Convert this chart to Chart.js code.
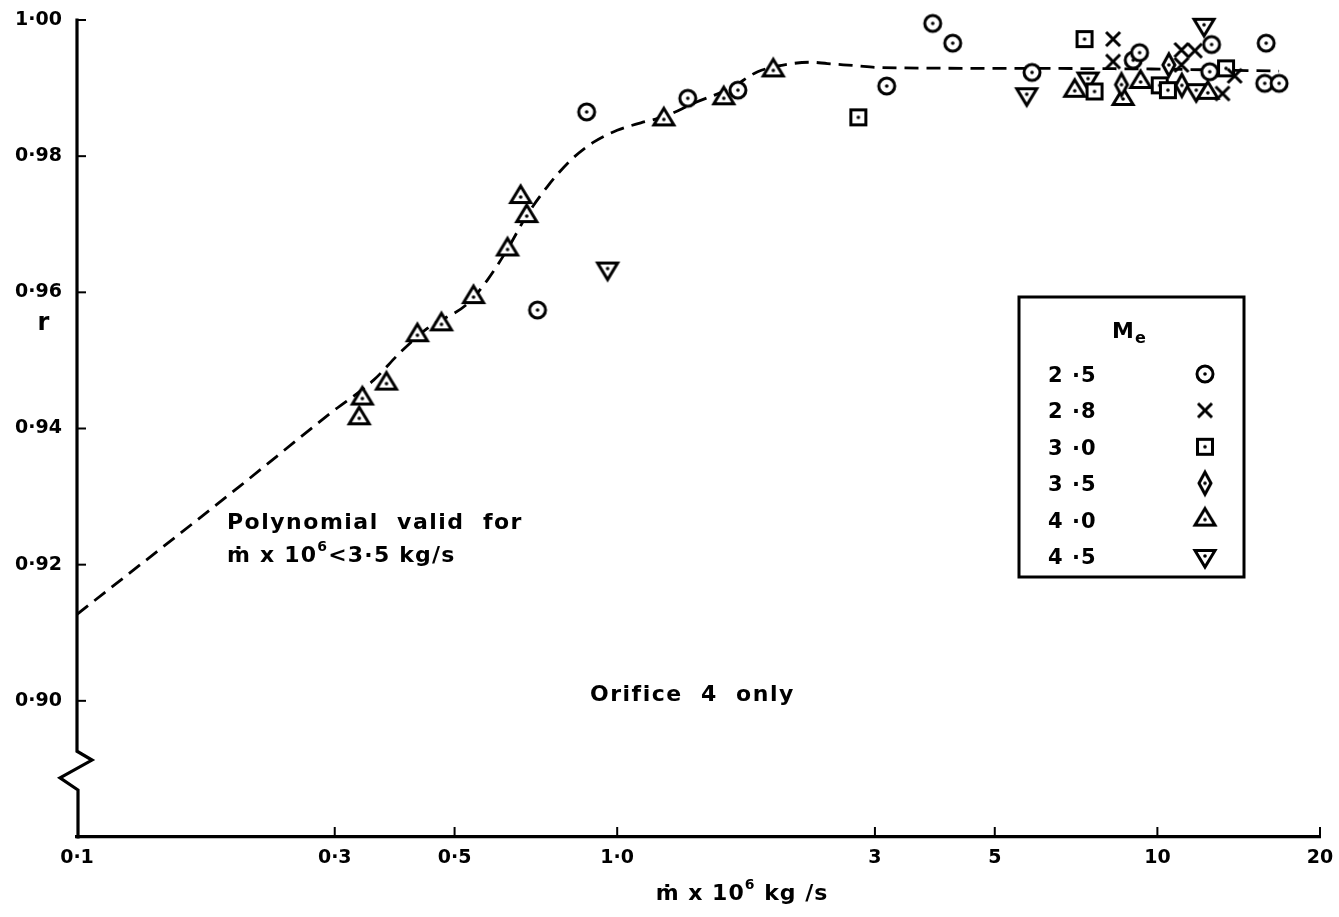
<!DOCTYPE html>
<html>
<head>
<meta charset="utf-8">
<title>r against mass flow</title>
<script src="https://cdn.jsdelivr.net/npm/chart.js@4.4.1/dist/chart.umd.min.js"></script>
<style>
  html, body { margin: 0; padding: 0; background: #fff; }
  #wrap { width: 1339px; height: 917px; }
</style>
</head>
<body>
<div id="wrap"><canvas id="chart" width="1339" height="917"></canvas></div>
<script>
// axis ticks
const xTickValues = [0.1, 0.3, 0.5, 1, 3, 5, 10, 20];
const xTickLabels = ["0·1", "0·3", "0·5", "1·0", "3", "5", "10", "20"];
const yTickValues = [0.90, 0.92, 0.94, 0.96, 0.98, 1.00];
const yTickLabels = ["0·90", "0·92", "0·94", "0·96", "0·98", "1·00"];

// fitted polynomial, dashed
const fitX = [0.1, 0.2, 0.294, 0.354, 0.397, 0.445, 0.528, 0.575, 0.626, 0.679, 0.742, 0.82, 0.906, 1.0, 1.106, 1.221, 1.388, 1.623, 1.82, 2.07, 2.28, 2.45, 2.75, 3.08, 5.14, 9.75, 16.8];
const fitY = [0.9127, 0.9315, 0.9422, 0.9471, 0.9512, 0.9547, 0.9583, 0.9618, 0.9663, 0.9712, 0.9755, 0.9794, 0.9821, 0.9838, 0.9849, 0.9858, 0.9878, 0.9900, 0.9924, 0.9935, 0.9938, 0.9936, 0.9933, 0.9930, 0.9929, 0.9928, 0.9925];

// measured points, one pair per exit Mach number
const m25X = [0.712, 0.878, 1.351, 1.673, 3.155, 3.838, 4.18, 5.86, 9.02, 9.27, 12.5, 12.6, 15.8, 15.9, 16.8];
const m25Y = [0.9574, 0.9865, 0.9885, 0.9897, 0.9903, 0.9995, 0.9966, 0.9923, 0.9941, 0.9952, 0.9924, 0.9964, 0.9907, 0.9966, 0.9907];
const m28X = [8.28, 8.28, 11.08, 11.73, 11.08, 13.9, 13.2];
const m28Y = [0.9972, 0.9939, 0.9956, 0.9955, 0.9934, 0.9918, 0.9892];
const m30X = [2.795, 7.33, 7.65, 10.1, 10.46, 13.4];
const m30Y = [0.9857, 0.9972, 0.9895, 0.9904, 0.9897, 0.9929];
const m35X = [8.58, 10.5, 11.1];
const m35Y = [0.9905, 0.9934, 0.9904];
const m40X = [0.333, 0.3375, 0.374, 0.4267, 0.4728, 0.542, 0.6266, 0.680, 0.6627, 1.22, 1.575, 1.945, 7.03, 8.64, 9.31, 12.4];
const m40Y = [0.9415, 0.9444, 0.9466, 0.9537, 0.9553, 0.9593, 0.9663, 0.9712, 0.974, 0.9854, 0.9885, 0.9926, 0.9896, 0.9884, 0.9909, 0.9893];
const m45X = [0.960, 5.73, 7.44, 11.8, 12.2];
const m45Y = [0.9635, 0.9891, 0.9914, 0.9897, 0.9993];

const machLabels = ["2·5", "2·8", "3·0", "3·5", "4·0", "4·5"];
const machKinds = ["circle", "cross", "square", "diamond", "up", "down"];

const FONT = '"DejaVu Sans", "Liberation Sans", sans-serif';

function pairs(xs, ys) {
  return xs.map((x, i) => ({ x: x, y: ys[i] }));
}

// small canvases used as point symbols
function makeMarker(kind) {
  const c = document.createElement("canvas");
  c.width = 30; c.height = 30;
  const g = c.getContext("2d");
  const m = 15;
  g.lineWidth = 3;
  g.strokeStyle = "#000";
  g.fillStyle = "#fff";
  g.lineJoin = "miter";
  g.beginPath();
  if (kind === "circle") {
    g.arc(m, m, 8, 0, Math.PI * 2);
  } else if (kind === "square") {
    g.rect(m - 7.5, m - 7.5, 15, 15);
  } else if (kind === "diamond") {
    g.moveTo(m, m - 11); g.lineTo(m + 6, m); g.lineTo(m, m + 11); g.lineTo(m - 6, m); g.closePath();
  } else if (kind === "up") {
    g.moveTo(m, m - 11); g.lineTo(m + 10, m + 5.5); g.lineTo(m - 10, m + 5.5); g.closePath();
  } else if (kind === "down") {
    g.moveTo(m - 10, m - 5.5); g.lineTo(m + 10, m - 5.5); g.lineTo(m, m + 11); g.closePath();
  } else if (kind === "cross") {
    g.moveTo(m - 7, m - 7); g.lineTo(m + 7, m + 7);
    g.moveTo(m + 7, m - 7); g.lineTo(m - 7, m + 7);
    g.stroke();
    return c;
  }
  g.fill();
  g.stroke();
  g.fillStyle = "#000";
  g.beginPath();
  g.arc(m, m, 1.8, 0, Math.PI * 2);
  g.fill();
  return c;
}

const markers = machKinds.map(makeMarker);
const seriesX = [m25X, m28X, m30X, m35X, m40X, m45X];
const seriesY = [m25Y, m28Y, m30Y, m35Y, m40Y, m45Y];

const pointSets = seriesX.map((xs, i) => ({
  label: "Me " + machLabels[i],
  data: pairs(xs, seriesY[i]),
  pointStyle: markers[i],
  pointRadius: 8,
  showLine: false,
  clip: false
}));

// text pieces drawn left to right, small pieces raised as superscripts
function drawParts(ctx, parts, x, y, align) {
  let total = 0;
  parts.forEach(p => {
    ctx.font = "bold " + p.size + "px " + FONT;
    total += ctx.measureText(p.t).width;
  });
  let cx = align === "center" ? x - total / 2 : x;
  ctx.textAlign = "left";
  parts.forEach(p => {
    ctx.font = "bold " + p.size + "px " + FONT;
    ctx.fillText(p.t, cx, y + (p.dy || 0));
    cx += ctx.measureText(p.t).width;
  });
}

const paperPlugin = {
  id: "paper",
  afterDraw(chart) {
    const ctx = chart.ctx;
    const xs = chart.scales.x;
    const ys = chart.scales.y;
    const area = chart.chartArea;
    const x0 = area.left;
    ctx.save();
    ctx.strokeStyle = "#000";
    ctx.fillStyle = "#000";

    // y axis with a break below 0.90
    ctx.lineWidth = 3.2;
    ctx.lineJoin = "miter";
    ctx.beginPath();
    ctx.moveTo(x0, ys.getPixelForValue(1.0) - 1.5);
    ctx.lineTo(x0, ys.getPixelForValue(0.8926));
    ctx.lineTo(x0 + 15, ys.getPixelForValue(0.8913));
    ctx.lineTo(x0 - 17, ys.getPixelForValue(0.8887));
    ctx.lineTo(x0 + 1, ys.getPixelForValue(0.8869));
    ctx.lineTo(x0 + 1, area.bottom + 1.5);
    ctx.stroke();

    // inward ticks
    ctx.lineWidth = 2;
    yTickValues.forEach(v => {
      const p = ys.getPixelForValue(v);
      ctx.beginPath(); ctx.moveTo(x0, p); ctx.lineTo(x0 + 9, p); ctx.stroke();
    });
    xTickValues.slice(1).forEach(v => {
      const p = xs.getPixelForValue(v);
      ctx.beginPath(); ctx.moveTo(p, area.bottom); ctx.lineTo(p, area.bottom - 10); ctx.stroke();
    });

    ctx.textBaseline = "alphabetic";
    ctx.letterSpacing = "1px";

    // axis titles
    ctx.font = "bold 24px " + FONT;
    ctx.textAlign = "center";
    ctx.fillText("r", 44, ys.getPixelForValue(0.9555) + 7);
    drawParts(ctx, [
      { t: "ṁ x 10", size: 22 },
      { t: "6", size: 14, dy: -11 },
      { t: " kg /s", size: 22 }
    ], 742, 900, "center");

    // notes
    ctx.letterSpacing = "1.5px";
    ctx.font = "bold 22px " + FONT;
    ctx.textAlign = "left";
    ctx.fillText("Polynomial  valid  for", 227, 529);
    ctx.letterSpacing = "1.2px";
    drawParts(ctx, [
      { t: "ṁ x 10", size: 22 },
      { t: "6", size: 14, dy: -11 },
      { t: "<3·5 kg/s", size: 22 }
    ], 227, 562, "left");
    ctx.letterSpacing = "1.5px";
    ctx.font = "bold 22px " + FONT;
    ctx.textAlign = "left";
    ctx.fillText("Orifice  4  only", 590, 701);

    // legend box
    ctx.letterSpacing = "1px";
    const bl = 1019, bt = 297, br = 1244, bb = 577;
    ctx.lineWidth = 3;
    ctx.strokeRect(bl, bt, br - bl, bb - bt);
    drawParts(ctx, [
      { t: "M", size: 22 },
      { t: "e", size: 16, dy: 5 }
    ], 1112, 338, "left");
    const rowTop = 374, rowStep = 36.4;
    machLabels.forEach((lab, i) => {
      const cy = rowTop + i * rowStep;
      ctx.font = "bold 21px " + FONT;
      ctx.textAlign = "left";
      ctx.fillText(lab.replace("·", " ·"), 1048, cy + 8);
      const mk = markers[i];
      ctx.drawImage(mk, 1205 - mk.width / 2, cy - mk.height / 2);
    });
    ctx.restore();
  }
};

new Chart(document.getElementById("chart"), {
  type: "scatter",
  data: {
    datasets: pointSets.concat([{
      label: "polynomial",
      data: pairs(fitX, fitY),
      showLine: true,
      borderColor: "#000",
      borderWidth: 2.8,
      borderDash: [14, 8],
      pointRadius: 0,
      cubicInterpolationMode: "monotone",
      fill: false
    }])
  },
  options: {
    responsive: false,
    animation: false,
    layout: { padding: { top: 20, right: 19, left: 0, bottom: 0 } },
    plugins: { legend: { display: false }, tooltip: { enabled: false } },
    scales: {
      x: {
        type: "logarithmic",
        min: 0.1,
        max: 20,
        afterBuildTicks: s => { s.ticks = xTickValues.map(v => ({ value: v })); },
        afterFit: s => { s.height = 80; s.paddingLeft = 0; s.paddingRight = 0; },
        grid: { display: false, drawTicks: false },
        border: { display: true, width: 3.2, color: "#000" },
        ticks: {
          autoSkip: false,
          maxRotation: 0,
          padding: 10,
          color: "#000",
          font: { family: FONT, size: 19, weight: "bold" },
          callback: (v, i) => xTickLabels[i]
        }
      },
      y: {
        type: "linear",
        min: 0.88,
        max: 1.0,
        afterBuildTicks: s => { s.ticks = yTickValues.map(v => ({ value: v })); },
        afterFit: s => { s.width = 77; s.paddingTop = 0; s.paddingBottom = 0; },
        grid: { display: false, drawTicks: false },
        border: { display: false },
        ticks: {
          padding: 15,
          color: "#000",
          font: { family: FONT, size: 19, weight: "bold" },
          callback: (v, i) => yTickLabels[i]
        }
      }
    }
  },
  plugins: [paperPlugin]
});
</script>
</body>
</html>
